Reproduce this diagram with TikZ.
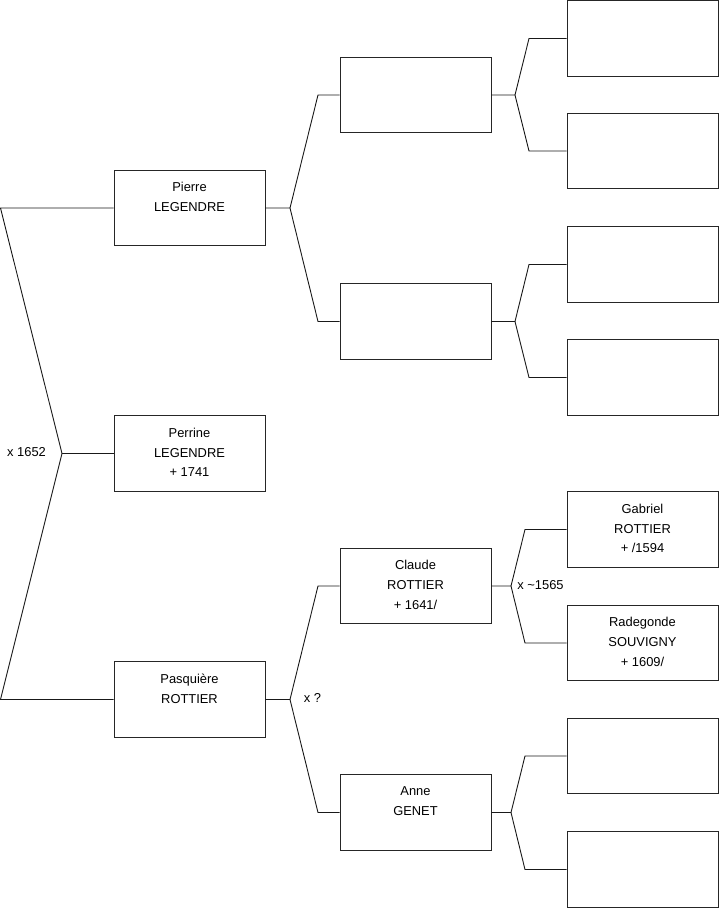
\documentclass[tikz,border=0pt]{standalone}
\usepackage{fontspec}
\setmainfont{Liberation Sans}
\begin{document}
\begin{tikzpicture}[x=1pt,y=-1pt,
  person/.style={draw=black!85, line width=0.9pt, minimum width=151pt, minimum height=75.5pt, inner sep=0pt,
    label={[anchor=north, align=center, inner sep=0pt, yshift=-12.5pt, font=\fontsize{12.9}{19.7}\selectfont]north:#1}},
  person/.default={},
  link/.style={draw=black!90, line width=0.9pt},
  tag/.style={font=\fontsize{12.9}{14}\selectfont, inner sep=0pt}]
\useasboundingbox (0,0) rectangle (719,908);
% generation 1
\node[person={Pierre\\LEGENDRE}] (pierre) at (189.5,208) {};
\node[person={Perrine\\LEGENDRE\\+ 1741}] (perrine) at (189.5,453.5) {};
\node[person={Pasqui\`ere\\ROTTIER}] (pasq) at (189.5,699.5) {};
% generation 2
\node[person] (p1) at (415.5,95) {};
\node[person] (p2) at (415.5,321.5) {};
\node[person={Claude\\ROTTIER\\+ 1641/}] (claude) at (415.5,586) {};
\node[person={Anne\\GENET}] (anne) at (415.5,812.5) {};
% generation 3
\node[person] (g1) at (642.5,38.5) {};
\node[person] (g2) at (642.5,151) {};
\node[person] (g3) at (642.5,264.5) {};
\node[person] (g4) at (642.5,377.5) {};
\node[person={Gabriel\\ROTTIER\\+ /1594}] (gabriel) at (642.5,529.5) {};
\node[person={Radegonde\\SOUVIGNY\\+ 1609/}] (rade) at (642.5,643) {};
\node[person] (g7) at (642.5,756) {};
\node[person] (g8) at (642.5,869.5) {};
% root fork
\coordinate (ra) at (0.5,208);
\coordinate (rv) at (62,453.5);
\coordinate (rb) at (0.5,699.5);
\draw[link] (pierre.west) -- (ra) -- (rv) -- (rb) -- (pasq.west);
\draw[link] (rv) -- (perrine.west);
\node[tag] (m0) at (26.5,452.5) {x 1652};
% gen1 -> gen2
\coordinate (v1) at (290,208);
\coordinate (v1a) at (318,95);
\coordinate (v1b) at (318,321.5);
\draw[link] (pierre.east) -- (v1) -- (v1a) -- (p1.west);
\draw[link] (v1) -- (v1b) -- (p2.west);
\coordinate (v2) at (290,699.5);
\coordinate (v2a) at (318,586);
\coordinate (v2b) at (318,812.5);
\draw[link] (pasq.east) -- (v2) -- (v2a) -- (claude.west);
\draw[link] (v2) -- (v2b) -- (anne.west);
\node[tag] (m1) at (312.5,698) {x ?};
% gen2 -> gen3
\coordinate (w1) at (515,95);
\coordinate (w1a) at (529,38.5);
\coordinate (w1b) at (529,151);
\draw[link] (p1.east) -- (w1) -- (w1a) -- (g1.west);
\draw[link] (w1) -- (w1b) -- (g2.west);
\coordinate (w2) at (515,321.5);
\coordinate (w2a) at (529,264.5);
\coordinate (w2b) at (529,377.5);
\draw[link] (p2.east) -- (w2) -- (w2a) -- (g3.west);
\draw[link] (w2) -- (w2b) -- (g4.west);
\coordinate (w3) at (511,586);
\coordinate (w3a) at (525,529.5);
\coordinate (w3b) at (525,643);
\draw[link] (claude.east) -- (w3) -- (w3a) -- (gabriel.west);
\draw[link] (w3) -- (w3b) -- (rade.west);
\node[tag] (m2) at (540.5,585) {x \textasciitilde1565};
\coordinate (w4) at (511,812.5);
\coordinate (w4a) at (525,756);
\coordinate (w4b) at (525,869.5);
\draw[link] (anne.east) -- (w4) -- (w4a) -- (g7.west);
\draw[link] (w4) -- (w4b) -- (g8.west);
\end{tikzpicture}
\end{document}
